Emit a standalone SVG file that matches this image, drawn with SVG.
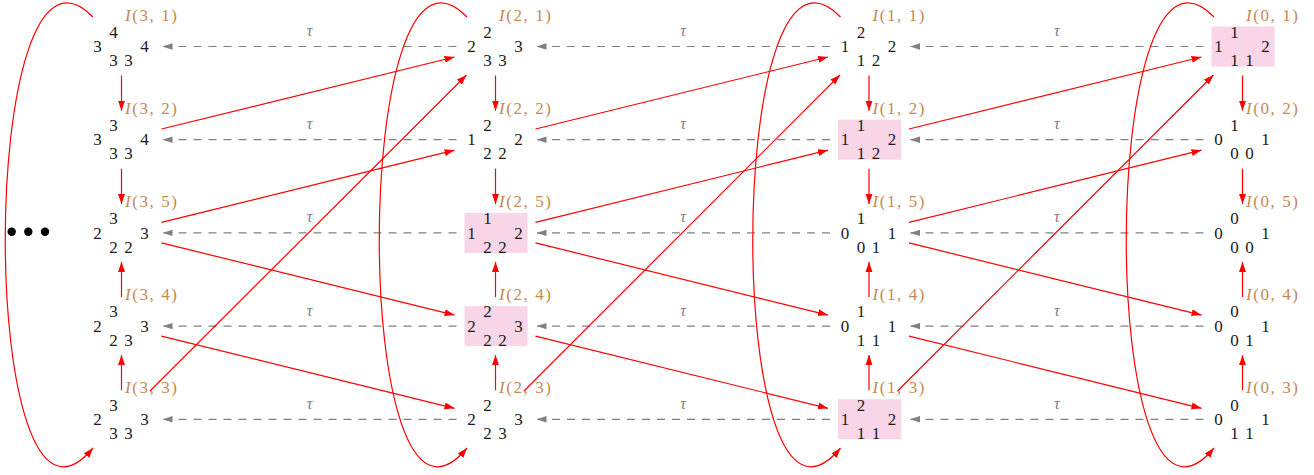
<svg xmlns="http://www.w3.org/2000/svg" width="1314" height="475" viewBox="0 0 1314 475">
<style>
.d{font-family:"Liberation Serif","DejaVu Serif","Times New Roman",serif;font-size:17px;fill:#1a1a1a;text-anchor:middle}
.lb{font-family:"Liberation Serif","DejaVu Serif","Times New Roman",serif;font-size:17px;fill:#c48a55}
.t{font-family:"Liberation Serif","DejaVu Serif","Times New Roman",serif;font-size:16px;font-style:italic;fill:#808080;text-anchor:middle}
.r{stroke:#ff0000;stroke-width:1.2;fill:none;marker-end:url(#ar)}
.g{stroke:#808080;stroke-width:1.2;stroke-dasharray:8 7;fill:none;marker-end:url(#ag)}
.box{fill:#f8d5e7}
</style>
<defs>
<marker id="ar" markerWidth="10" markerHeight="8" refX="10" refY="4" orient="auto" markerUnits="userSpaceOnUse"><path d="M0,0.5 L10,4 L0,7.5 z" fill="#ff0000"/></marker>
<marker id="ag" markerWidth="10" markerHeight="8" refX="10" refY="4" orient="auto" markerUnits="userSpaceOnUse"><path d="M0,0.8 L10,4 L0,7.2 z" fill="#808080"/></marker>
</defs>
<rect width="1314" height="475" fill="#ffffff"/>
<g id="dots" fill="#000">
<circle cx="11.7" cy="231.7" r="4.2"/><circle cx="28.3" cy="231.7" r="4.2"/><circle cx="45" cy="231.7" r="4.2"/>
</g>
<!-- column 3 -->
<g id="n31"><text class="d" x="97.5" y="52.2">3</text><text class="d" x="113.5" y="37.8">4</text><text class="d" x="113.5" y="66.2">3</text><text class="d" x="128.5" y="66.2">3</text><text class="d" x="144.5" y="52.2">4</text><text class="lb" x="125" y="20.5" textLength="52" lengthAdjust="spacing"><tspan font-style="italic">I</tspan>(3, 1)</text></g>
<g id="n32"><text class="d" x="97.5" y="145.4">3</text><text class="d" x="113.5" y="131">3</text><text class="d" x="113.5" y="159.4">3</text><text class="d" x="128.5" y="159.4">3</text><text class="d" x="144.5" y="145.4">4</text><text class="lb" x="125" y="113.7" textLength="52" lengthAdjust="spacing"><tspan font-style="italic">I</tspan>(3, 2)</text></g>
<g id="n35"><text class="d" x="97.5" y="238.6">2</text><text class="d" x="113.5" y="224.2">3</text><text class="d" x="113.5" y="252.6">2</text><text class="d" x="128.5" y="252.6">2</text><text class="d" x="144.5" y="238.6">3</text><text class="lb" x="125" y="206.9" textLength="52" lengthAdjust="spacing"><tspan font-style="italic">I</tspan>(3, 5)</text></g>
<g id="n34"><text class="d" x="97.5" y="331.8">2</text><text class="d" x="113.5" y="317.4">3</text><text class="d" x="113.5" y="345.8">2</text><text class="d" x="128.5" y="345.8">3</text><text class="d" x="144.5" y="331.8">3</text><text class="lb" x="125" y="300.1" textLength="52" lengthAdjust="spacing"><tspan font-style="italic">I</tspan>(3, 4)</text></g>
<g id="n33"><text class="d" x="97.5" y="425">2</text><text class="d" x="113.5" y="410.6">3</text><text class="d" x="113.5" y="439">3</text><text class="d" x="128.5" y="439">3</text><text class="d" x="144.5" y="425">3</text><text class="lb" x="125" y="393.3" textLength="52" lengthAdjust="spacing"><tspan font-style="italic">I</tspan>(3, 3)</text></g>
<!-- column 2 -->
<g id="n21"><text class="d" x="471.5" y="52.2">2</text><text class="d" x="487.5" y="37.8">2</text><text class="d" x="487.5" y="66.2">3</text><text class="d" x="502.5" y="66.2">3</text><text class="d" x="518.5" y="52.2">3</text><text class="lb" x="499" y="20.5" textLength="52" lengthAdjust="spacing"><tspan font-style="italic">I</tspan>(2, 1)</text></g>
<g id="n22"><text class="d" x="471.5" y="145.4">1</text><text class="d" x="487.5" y="131">2</text><text class="d" x="487.5" y="159.4">2</text><text class="d" x="502.5" y="159.4">2</text><text class="d" x="518.5" y="145.4">2</text><text class="lb" x="499" y="113.7" textLength="52" lengthAdjust="spacing"><tspan font-style="italic">I</tspan>(2, 2)</text></g>
<g id="n25"><rect class="box" x="464.5" y="212.9" width="63" height="40"/><text class="d" x="471.5" y="238.6">1</text><text class="d" x="487.5" y="224.2">1</text><text class="d" x="487.5" y="252.6">2</text><text class="d" x="502.5" y="252.6">2</text><text class="d" x="518.5" y="238.6">2</text><text class="lb" x="499" y="206.9" textLength="52" lengthAdjust="spacing"><tspan font-style="italic">I</tspan>(2, 5)</text></g>
<g id="n24"><rect class="box" x="464.5" y="306.1" width="63" height="40"/><text class="d" x="471.5" y="331.8">2</text><text class="d" x="487.5" y="317.4">2</text><text class="d" x="487.5" y="345.8">2</text><text class="d" x="502.5" y="345.8">2</text><text class="d" x="518.5" y="331.8">3</text><text class="lb" x="499" y="300.1" textLength="52" lengthAdjust="spacing"><tspan font-style="italic">I</tspan>(2, 4)</text></g>
<g id="n23"><text class="d" x="471.5" y="425">2</text><text class="d" x="487.5" y="410.6">2</text><text class="d" x="487.5" y="439">2</text><text class="d" x="502.5" y="439">3</text><text class="d" x="518.5" y="425">3</text><text class="lb" x="499" y="393.3" textLength="52" lengthAdjust="spacing"><tspan font-style="italic">I</tspan>(2, 3)</text></g>
<!-- column 1 -->
<g id="n11"><text class="d" x="845" y="52.2">1</text><text class="d" x="861" y="37.8">2</text><text class="d" x="861" y="66.2">1</text><text class="d" x="876" y="66.2">2</text><text class="d" x="892" y="52.2">2</text><text class="lb" x="872.5" y="20.5" textLength="52" lengthAdjust="spacing"><tspan font-style="italic">I</tspan>(1, 1)</text></g>
<g id="n12"><rect class="box" x="838" y="119.7" width="63" height="40"/><text class="d" x="845" y="145.4">1</text><text class="d" x="861" y="131">1</text><text class="d" x="861" y="159.4">1</text><text class="d" x="876" y="159.4">2</text><text class="d" x="892" y="145.4">2</text><text class="lb" x="872.5" y="113.7" textLength="52" lengthAdjust="spacing"><tspan font-style="italic">I</tspan>(1, 2)</text></g>
<g id="n15"><text class="d" x="845" y="238.6">0</text><text class="d" x="861" y="224.2">1</text><text class="d" x="861" y="252.6">0</text><text class="d" x="876" y="252.6">1</text><text class="d" x="892" y="238.6">1</text><text class="lb" x="872.5" y="206.9" textLength="52" lengthAdjust="spacing"><tspan font-style="italic">I</tspan>(1, 5)</text></g>
<g id="n14"><text class="d" x="845" y="331.8">0</text><text class="d" x="861" y="317.4">1</text><text class="d" x="861" y="345.8">1</text><text class="d" x="876" y="345.8">1</text><text class="d" x="892" y="331.8">1</text><text class="lb" x="872.5" y="300.1" textLength="52" lengthAdjust="spacing"><tspan font-style="italic">I</tspan>(1, 4)</text></g>
<g id="n13"><rect class="box" x="838" y="399.3" width="63" height="40"/><text class="d" x="845" y="425">1</text><text class="d" x="861" y="410.6">2</text><text class="d" x="861" y="439">1</text><text class="d" x="876" y="439">1</text><text class="d" x="892" y="425">2</text><text class="lb" x="872.5" y="393.3" textLength="52" lengthAdjust="spacing"><tspan font-style="italic">I</tspan>(1, 3)</text></g>
<!-- column 0 -->
<g id="n01"><rect class="box" x="1211.5" y="26.5" width="63" height="40"/><text class="d" x="1218.5" y="52.2">1</text><text class="d" x="1234.5" y="37.8">1</text><text class="d" x="1234.5" y="66.2">1</text><text class="d" x="1249.5" y="66.2">1</text><text class="d" x="1265.5" y="52.2">2</text><text class="lb" x="1246" y="20.5" textLength="52" lengthAdjust="spacing"><tspan font-style="italic">I</tspan>(0, 1)</text></g>
<g id="n02"><text class="d" x="1218.5" y="145.4">0</text><text class="d" x="1234.5" y="131">1</text><text class="d" x="1234.5" y="159.4">0</text><text class="d" x="1249.5" y="159.4">0</text><text class="d" x="1265.5" y="145.4">1</text><text class="lb" x="1246" y="113.7" textLength="52" lengthAdjust="spacing"><tspan font-style="italic">I</tspan>(0, 2)</text></g>
<g id="n05"><text class="d" x="1218.5" y="238.6">0</text><text class="d" x="1234.5" y="224.2">0</text><text class="d" x="1234.5" y="252.6">0</text><text class="d" x="1249.5" y="252.6">0</text><text class="d" x="1265.5" y="238.6">1</text><text class="lb" x="1246" y="206.9" textLength="52" lengthAdjust="spacing"><tspan font-style="italic">I</tspan>(0, 5)</text></g>
<g id="n04"><text class="d" x="1218.5" y="331.8">0</text><text class="d" x="1234.5" y="317.4">0</text><text class="d" x="1234.5" y="345.8">0</text><text class="d" x="1249.5" y="345.8">1</text><text class="d" x="1265.5" y="331.8">1</text><text class="lb" x="1246" y="300.1" textLength="52" lengthAdjust="spacing"><tspan font-style="italic">I</tspan>(0, 4)</text></g>
<g id="n03"><text class="d" x="1218.5" y="425">0</text><text class="d" x="1234.5" y="410.6">0</text><text class="d" x="1234.5" y="439">1</text><text class="d" x="1249.5" y="439">1</text><text class="d" x="1265.5" y="425">1</text><text class="lb" x="1246" y="393.3" textLength="52" lengthAdjust="spacing"><tspan font-style="italic">I</tspan>(0, 3)</text></g>
<g id="connectors">
<path class="g" d="M456.5,46.5 L162.5,46.5"/><path class="g" d="M830,46.5 L536.5,46.5"/><path class="g" d="M1203.5,46.5 L910,46.5"/>
<path class="g" d="M456.5,139.7 L162.5,139.7"/><path class="g" d="M830,139.7 L536.5,139.7"/><path class="g" d="M1203.5,139.7 L910,139.7"/>
<path class="g" d="M456.5,232.9 L162.5,232.9"/><path class="g" d="M830,232.9 L536.5,232.9"/><path class="g" d="M1203.5,232.9 L910,232.9"/>
<path class="g" d="M456.5,326.1 L162.5,326.1"/><path class="g" d="M830,326.1 L536.5,326.1"/><path class="g" d="M1203.5,326.1 L910,326.1"/>
<path class="g" d="M456.5,419.3 L162.5,419.3"/><path class="g" d="M830,419.3 L536.5,419.3"/><path class="g" d="M1203.5,419.3 L910,419.3"/>
<g id="tau-labels">
<text class="t" x="309.5" y="36">τ</text><text class="t" x="683" y="36">τ</text><text class="t" x="1056.8" y="36">τ</text>
<text class="t" x="309.5" y="129.2">τ</text><text class="t" x="683" y="129.2">τ</text><text class="t" x="1056.8" y="129.2">τ</text>
<text class="t" x="309.5" y="222.4">τ</text><text class="t" x="683" y="222.4">τ</text><text class="t" x="1056.8" y="222.4">τ</text>
<text class="t" x="309.5" y="315.6">τ</text><text class="t" x="683" y="315.6">τ</text><text class="t" x="1056.8" y="315.6">τ</text>
<text class="t" x="309.5" y="408.8">τ</text><text class="t" x="683" y="408.8">τ</text><text class="t" x="1056.8" y="408.8">τ</text>
</g>
<path class="r" d="M121.5,75.5 V110.7"/><path class="r" d="M121.5,168.7 V203.9"/><path class="r" d="M121.5,390.3 V355.1"/><path class="r" d="M121.5,297.1 V261.9"/>
<path class="r" d="M495.5,75.5 V110.7"/><path class="r" d="M495.5,168.7 V203.9"/><path class="r" d="M495.5,390.3 V355.1"/><path class="r" d="M495.5,297.1 V261.9"/>
<path class="r" d="M869,75.5 V110.7"/><path class="r" d="M869,168.7 V203.9"/><path class="r" d="M869,390.3 V355.1"/><path class="r" d="M869,297.1 V261.9"/>
<path class="r" d="M1242.5,75.5 V110.7"/><path class="r" d="M1242.5,168.7 V203.9"/><path class="r" d="M1242.5,390.3 V355.1"/><path class="r" d="M1242.5,297.1 V261.9"/>
<path class="r" d="M161.5,129 L454.5,57"/><path class="r" d="M150,391 L466.5,75"/><path class="r" d="M161.5,222.4 L454.5,150.2"/><path class="r" d="M161.5,242.9 L454.5,315.1"/><path class="r" d="M161.5,336.1 L454.5,408.3"/>
<path class="r" d="M535.5,129 L828,57"/><path class="r" d="M524,391 L840,75"/><path class="r" d="M535.5,222.4 L828,150.2"/><path class="r" d="M535.5,242.9 L828,315.1"/><path class="r" d="M535.5,336.1 L828,408.3"/>
<path class="r" d="M909,129 L1201.5,57"/><path class="r" d="M897.5,391 L1213.5,75"/><path class="r" d="M909,222.4 L1201.5,150.2"/><path class="r" d="M909,242.9 L1201.5,315.1"/><path class="r" d="M909,336.1 L1201.5,408.3"/>
<path class="r" d="M93,17 C-24,-103 -24,588 93,448"/>
<path class="r" d="M467,17 C350,-103 350,588 467,448"/>
<path class="r" d="M840.5,17 C723.5,-103 723.5,588 840.5,448"/>
<path class="r" d="M1214,17 C1097,-103 1097,588 1214,448"/>
</g>
</svg>
